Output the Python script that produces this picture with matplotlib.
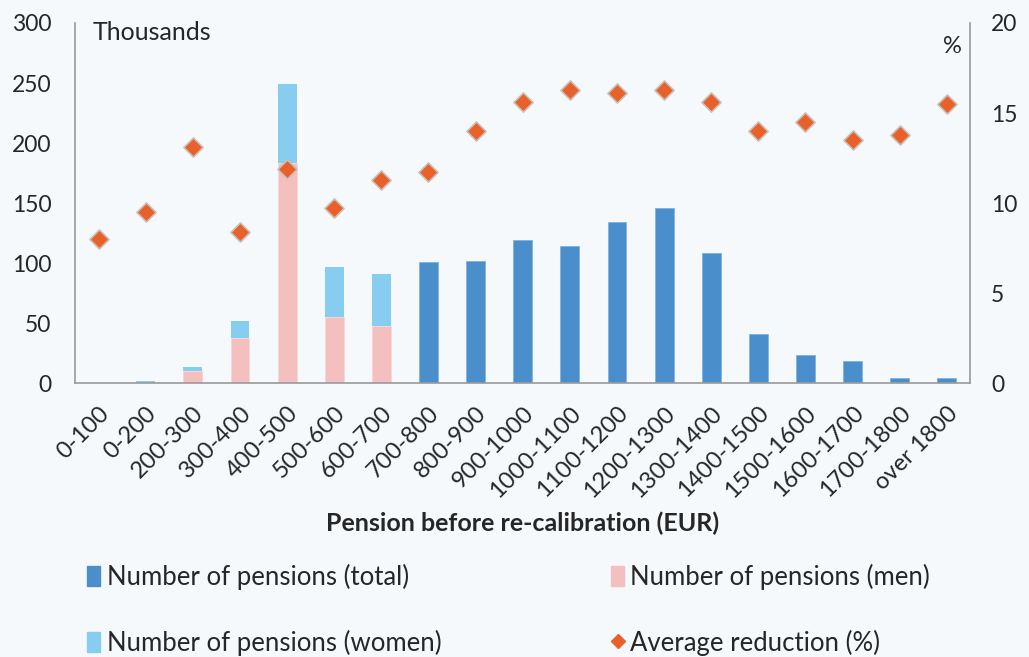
import matplotlib.pyplot as plt
from matplotlib.lines import Line2D
from matplotlib.patches import Patch
import numpy as np

plt.rcParams['font.family'] = ['Lato', 'DejaVu Sans']

categories = ['0-100', '0-200', '200-300', '300-400', '400-500', '500-600',
              '600-700', '700-800', '800-900', '900-1000', '1000-1100',
              '1100-1200', '1200-1300', '1300-1400', '1400-1500',
              '1500-1600', '1600-1700', '1700-1800', 'over 1800']

# thousands of pensions
men = [0, 0, 10, 37.5, 183, 55, 47.5, 0, 0, 0, 0, 0, 0, 0, 0, 0, 0, 0, 0]
women = [0, 1.5, 3.3, 14, 66, 41.5, 43, 0, 0, 0, 0, 0, 0, 0, 0, 0, 0, 0, 0]
total = [0, 0, 0, 0, 0, 0, 0, 101, 102, 119, 114, 134, 146, 108, 40.5,
         23, 18.5, 4.6, 4.6]
# average reduction, %
reduction = [8.0, 9.5, 13.1, 8.4, 11.9, 9.7, 11.3, 11.7, 14.0, 15.6, 16.3,
             16.1, 16.3, 15.6, 14.0, 14.5, 13.5, 13.8, 15.5]

bg = '#f5f9fc'
c_total = '#4a8fcb'
c_men = '#f4bfbf'
c_women = '#87cdef'
c_avg = '#e8612a'
text_c = '#262626'
spine_c = '#9a9a9a'

fig = plt.figure(figsize=(10.29, 6.57), dpi=100, facecolor=bg)
ax = fig.add_axes([0.073, 0.417, 0.870, 0.548])
ax.set_facecolor(bg)
x = np.arange(len(categories))
w = 0.4

ax.bar(x, total, w, color=c_total, edgecolor='#7fb3de', linewidth=0.6)
ax.bar(x, men, w, color=c_men, edgecolor='#f8d6d6', linewidth=0.6)
ax.bar(x, women, w, bottom=men, color=c_women, linewidth=0)

ax.set_ylim(0, 300)
ax.set_xlim(-0.5, len(categories) - 0.5)
ax.set_yticks(range(0, 301, 50))
ax.set_xticks(x)
ax.set_xticklabels(categories, rotation=45, ha='right', rotation_mode='anchor',
                   fontsize=17, color=text_c)
ax.tick_params(axis='y', labelsize=16.5, colors=text_c, length=0, pad=17)
ax.tick_params(axis='x', length=0, pad=14)
for s in ['top', 'right']:
    ax.spines[s].set_visible(False)
for s in ['left', 'bottom']:
    ax.spines[s].set_color(spine_c)
    ax.spines[s].set_linewidth(1.2)
ax.text(0.02, 1.005, 'Thousands', transform=ax.transAxes, fontsize=18,
        color=text_c, va='top')
ax.set_xlabel('Pension before re-calibration (EUR)', fontsize=18,
              fontweight='bold', color=text_c, labelpad=7)

ax2 = ax.twinx()
ax2.scatter(x, reduction, marker='D', s=95, color=c_avg,
            edgecolors='#c9c0b8', linewidths=1.2, zorder=5)
ax2.set_ylim(0, 20)
ax2.set_yticks(range(0, 21, 5))
ax2.tick_params(axis='y', labelsize=16.5, colors=text_c, length=0, pad=15)
for s in ['top', 'left', 'bottom']:
    ax2.spines[s].set_visible(False)
ax2.spines['right'].set_color(spine_c)
ax2.spines['right'].set_linewidth(1.2)
ax2.text(0.99, 0.965, '%', transform=ax2.transAxes, fontsize=17,
         color=text_c, va='top', ha='right')

col1 = [Patch(color=c_total, label='Number of pensions (total)'),
        Patch(color=c_women, label='Number of pensions (women)')]
col2 = [Patch(color=c_men, label='Number of pensions (men)'),
        Line2D([], [], marker='D', color=c_avg, linestyle='none',
               markersize=7, label='Average reduction (%)')]
leg_kw = dict(loc='center left', frameon=False, fontsize=18.5,
              handlelength=0.5, handleheight=0.8, handletextpad=0.25,
              labelspacing=1.55, labelcolor=text_c, borderaxespad=0,
              borderpad=0)
fig.legend(handles=col1, bbox_to_anchor=(0.085, 0.072), **leg_kw)
fig.legend(handles=col2, bbox_to_anchor=(0.594, 0.072), **leg_kw)

fig.savefig('out.png', dpi=100, facecolor=bg)
